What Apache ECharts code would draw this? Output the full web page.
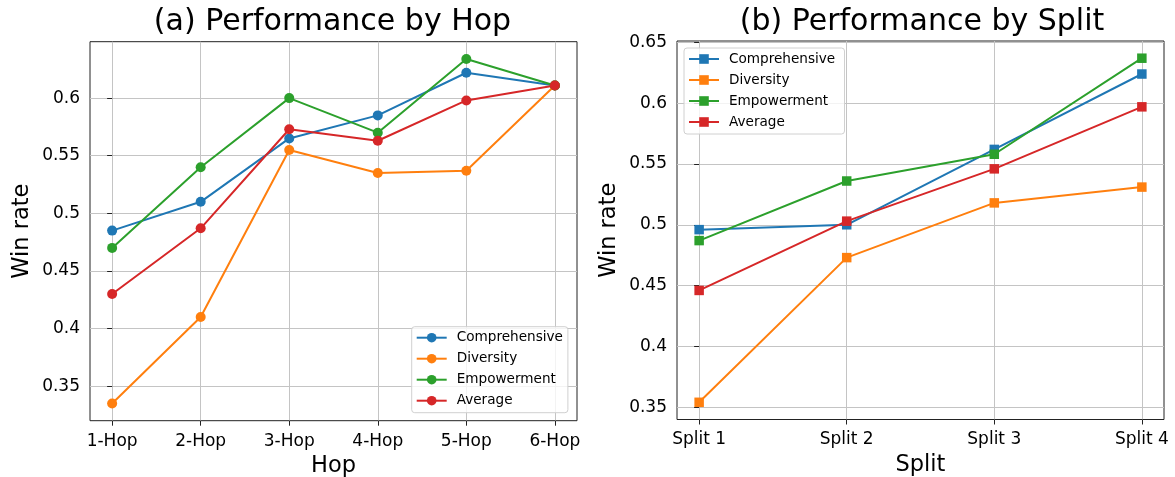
<!DOCTYPE html>
<html>
<head>
<meta charset="utf-8">
<script src="https://cdn.jsdelivr.net/npm/echarts@6/dist/echarts.min.js"></script>
<style>html,body{margin:0;padding:0;background:#fff;}#c{width:1175px;height:477px;}</style>
</head>
<body>
<div id="c"></div>
<script>
// ---- data ----
const hopCategories = ['1-Hop', '2-Hop', '3-Hop', '4-Hop', '5-Hop', '6-Hop'];
const hopComprehensive = [0.485, 0.510, 0.565, 0.585, 0.622, 0.611];
const hopDiversity     = [0.335, 0.410, 0.555, 0.535, 0.537, 0.611];
const hopEmpowerment   = [0.470, 0.540, 0.600, 0.570, 0.634, 0.611];
const hopAverage       = [0.430, 0.487, 0.573, 0.563, 0.598, 0.611];

const splitCategories = ['Split 1', 'Split 2', 'Split 3', 'Split 4'];
const splitComprehensive = [0.496, 0.500, 0.562, 0.624];
const splitDiversity     = [0.354, 0.473, 0.518, 0.531];
const splitEmpowerment   = [0.487, 0.536, 0.558, 0.637];
const splitAverage       = [0.446, 0.503, 0.546, 0.597];

const hopYTicks = [0.35, 0.4, 0.45, 0.5, 0.55, 0.6];
const splitYTicks = [0.35, 0.4, 0.45, 0.5, 0.55, 0.6, 0.65];
const seriesNames = ['Comprehensive', 'Diversity', 'Empowerment', 'Average'];

// ---- styling ----
const colors = ['#1f77b4', '#ff7f0e', '#2ca02c', '#d62728'];
const FONT = 'DejaVu Sans';

function padRange(arrs) {
  const all = [].concat(...arrs);
  const mn = Math.min(...all), mx = Math.max(...all);
  const m = (mx - mn) * 0.05;
  return [mn - m, mx + m];
}
const hopRange = padRange([hopComprehensive, hopDiversity, hopEmpowerment, hopAverage]);
const splitRange = padRange([splitComprehensive, splitDiversity, splitEmpowerment, splitAverage]);

const fmt = v => String(+(+v).toFixed(2));
const gridLine = { show: true, lineStyle: { color: '#c4c4c4', width: 1 } };
const tick = { show: true, inside: false, length: 5, lineStyle: { color: '#222', width: 1 } };

function xAxisFor(gridIndex, cats) {
  const idx = cats.map((_, i) => i);
  const m = (cats.length - 1) * 0.05;
  return {
    type: 'value', gridIndex, min: -m, max: cats.length - 1 + m,
    name: gridIndex === 0 ? 'Hop' : 'Split', nameLocation: 'middle', nameGap: 32,
    nameTextStyle: { fontFamily: FONT, fontSize: 22.5, color: '#000' },
    axisLine: { show: false },
    axisTick: Object.assign({ customValues: idx }, tick),
    axisLabel: { customValues: idx, margin: 12, fontFamily: FONT, fontSize: 17, color: '#000', formatter: v => cats[Math.round(v)] },
    splitLine: gridLine
  };
}
function yAxisFor(gridIndex, range, ticks) {
  return {
    type: 'value', gridIndex, min: range[0], max: range[1],
    name: 'Win rate', nameLocation: 'middle', nameGap: 56, nameRotate: 90,
    nameTextStyle: { fontFamily: FONT, fontSize: 22.5, color: '#000' },
    axisLine: { show: false },
    axisTick: Object.assign({ customValues: ticks }, tick),
    axisLabel: { customValues: ticks, margin: 10, fontFamily: FONT, fontSize: 17, color: '#000', formatter: fmt },
    splitLine: gridLine
  };
}
function mkSeries(name, vals, i, gi, symbol) {
  return {
    type: 'line', name, xAxisIndex: gi, yAxisIndex: gi,
    data: vals.map((v, k) => [k, v]),
    symbol, symbolSize: symbol === 'rect' ? 9.5 : 10, showSymbol: true,
    lineStyle: { color: colors[i], width: 2 },
    itemStyle: { color: colors[i] },
    emphasis: { disabled: true },
    animation: false, z: 3 + i
  };
}
const hopData = [hopComprehensive, hopDiversity, hopEmpowerment, hopAverage];
const splitData = [splitComprehensive, splitDiversity, splitEmpowerment, splitAverage];
const series = [];
seriesNames.forEach((n, i) => series.push(mkSeries(n, hopData[i], i, 0, 'circle')));
// right-panel series names carry a trailing space so each legend picks up its own marker
seriesNames.forEach((n, i) => series.push(mkSeries(n + ' ', splitData[i], i, 1, 'rect')));

const legendCommon = {
  orient: 'vertical', itemWidth: 30, itemHeight: 12, itemGap: 7,
  padding: [4, 5, 5, 4],
  backgroundColor: 'rgba(255,255,255,0.8)', borderColor: '#d0d0d0', borderWidth: 1, borderRadius: 3,
  textStyle: { fontFamily: FONT, fontSize: 13.6, color: '#000', lineHeight: 14, padding: [0, 0, 0, 5] },
  selectedMode: false
};

const titleStyle = { fontFamily: FONT, fontSize: 30, fontWeight: 'normal', color: '#000' };
const option = {
  backgroundColor: '#fff',
  animation: false,
  title: [
    { text: '(a) Performance by Hop', left: 332.5, top: 7, padding: 0, textAlign: 'center', textStyle: titleStyle },
    { text: '(b) Performance by Split', left: 922, top: 7, padding: 0, textAlign: 'center', textStyle: titleStyle }
  ],
  grid: [
    { left: 90, top: 41.7, width: 487, height: 379, outerBoundsMode: 'none', containLabel: false, show: true, borderColor: '#222', borderWidth: 1, backgroundColor: 'transparent' },
    { left: 677, top: 41, width: 487, height: 378.5, outerBoundsMode: 'none', containLabel: false, show: true, borderColor: '#222', borderWidth: 1, backgroundColor: 'transparent' }
  ],
  xAxis: [xAxisFor(0, hopCategories), xAxisFor(1, splitCategories)],
  yAxis: [yAxisFor(0, hopRange, hopYTicks), yAxisFor(1, splitRange, splitYTicks)],
  legend: [
    Object.assign({ data: seriesNames, left: 411.7, top: 326.7 }, legendCommon),
    Object.assign({ data: seriesNames.map(n => n + ' '), left: 684, top: 48 }, legendCommon)
  ],
  series
};
const chart = echarts.init(document.getElementById('c'), null, { renderer: 'canvas' });
chart.setOption(option);
</script>
</body>
</html>
